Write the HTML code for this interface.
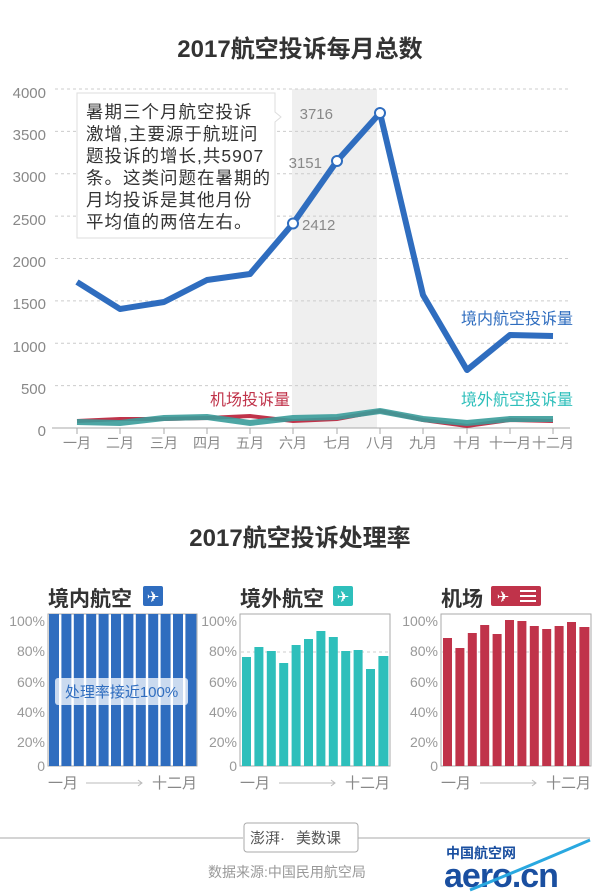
<!DOCTYPE html>
<html><head><meta charset="utf-8"><style>
body{margin:0;width:600px;height:892px;background:#fff;overflow:hidden}
svg{display:block}
text{font-family:"Liberation Sans","Noto Sans CJK SC",sans-serif}
</style></head><body>
<svg width="600" height="892" viewBox="0 0 600 892">
<text x="300" y="57" text-anchor="middle" font-size="24" font-weight="bold" fill="#333">2017航空投诉每月总数</text>
<rect x="292" y="89" width="85" height="339" fill="#efefef"/>
<g stroke="#ccc" stroke-dasharray="3,3" stroke-width="1">
<line x1="55" x2="570" y1="89" y2="89"/><line x1="55" x2="570" y1="131.4" y2="131.4"/>
<line x1="55" x2="570" y1="173.8" y2="173.8"/><line x1="55" x2="570" y1="216.1" y2="216.1"/>
<line x1="55" x2="570" y1="258.5" y2="258.5"/><line x1="55" x2="570" y1="300.9" y2="300.9"/>
<line x1="55" x2="570" y1="343.3" y2="343.3"/><line x1="55" x2="570" y1="385.6" y2="385.6"/>
</g>
<line x1="52" x2="570" y1="428" y2="428" stroke="#aaa"/>
<g font-size="15" fill="#888" text-anchor="end">
<text x="46" y="98">4000</text><text x="46" y="140">3500</text><text x="46" y="182">3000</text>
<text x="46" y="225">2500</text><text x="46" y="267">2000</text><text x="46" y="309">1500</text>
<text x="46" y="352">1000</text><text x="46" y="394">500</text><text x="46" y="436">0</text>
</g>
<g stroke="#aaa"><line x1="77" x2="77" y1="428" y2="434"/><line x1="120" x2="120" y1="428" y2="434"/><line x1="164" x2="164" y1="428" y2="434"/><line x1="207" x2="207" y1="428" y2="434"/><line x1="250" x2="250" y1="428" y2="434"/><line x1="293" x2="293" y1="428" y2="434"/><line x1="337" x2="337" y1="428" y2="434"/><line x1="380" x2="380" y1="428" y2="434"/><line x1="423" x2="423" y1="428" y2="434"/><line x1="467" x2="467" y1="428" y2="434"/><line x1="510" x2="510" y1="428" y2="434"/><line x1="553" x2="553" y1="428" y2="434"/></g>
<g font-size="14" fill="#888" text-anchor="middle">
<text x="77" y="448">一月</text><text x="120" y="448">二月</text><text x="164" y="448">三月</text><text x="207" y="448">四月</text><text x="250" y="448">五月</text><text x="293" y="448">六月</text><text x="337" y="448">七月</text><text x="380" y="448">八月</text><text x="423" y="448">九月</text><text x="467" y="448">十月</text><text x="510" y="448">十一月</text><text x="553" y="448">十二月</text>
</g>
<polyline fill="none" stroke="#c0334a" stroke-width="4" points="77,421 120,419 164,419 207,418 250,416 293,421 337,419 380,411 423,420 467,426 510,420 553,421"/>
<polyline fill="none" stroke="#3a9c9a" stroke-width="6" stroke-opacity="0.9" points="77,422 120,423 164,418 207,417 250,423 293,418 337,417 380,411 423,419 467,423 510,419 553,419"/>
<polyline fill="none" stroke="#2f6dbf" stroke-width="6" stroke-linejoin="round" points="77,282 120,309 164,302 207,280 250,274 293,223.5 337,161 380,113 423,295 467,370 510,335 553,336"/>
<g fill="#fff" stroke="#2f6dbf" stroke-width="2"><circle cx="293" cy="223.5" r="5"/><circle cx="337" cy="161" r="5"/><circle cx="380" cy="113" r="5"/></g>
<g font-size="15" fill="#888"><text x="333" y="119" text-anchor="end">3716</text><text x="322" y="168" text-anchor="end">3151</text><text x="302" y="230">2412</text></g>
<path d="M77,93 H275 V112 L281,117 L275,122 V238 H77 Z" fill="#fff" stroke="#ddd"/>
<g font-size="17.5" fill="#333" letter-spacing="1"><text x="86" y="118">暑期三个月航空投诉</text><text x="86" y="140">激增,主要源于航班问</text><text x="86" y="162">题投诉的增长,共5907</text><text x="86" y="184">条。这类问题在暑期的</text><text x="86" y="206">月均投诉是其他月份</text><text x="86" y="228">平均值的两倍左右。</text></g>
<g font-size="16"><text x="573" y="324" text-anchor="end" fill="#2f6dbf">境内航空投诉量</text><text x="290" y="405" text-anchor="end" fill="#c0334a">机场投诉量</text><text x="573" y="405" text-anchor="end" fill="#2ebfbb">境外航空投诉量</text></g>

<text x="300" y="546" text-anchor="middle" font-size="24" font-weight="bold" fill="#333">2017航空投诉处理率</text>
<g font-size="21" font-weight="bold" fill="#333"><text x="48" y="606">境内航空</text><text x="240" y="606">境外航空</text><text x="441" y="606">机场</text></g>
<rect x="143" y="586" width="20" height="20" rx="2" fill="#2f6dbf"/><text x="153" y="602" text-anchor="middle" font-size="15" fill="#fff">✈</text>
<rect x="333" y="586" width="20" height="20" rx="2" fill="#2ebfbb"/><text x="343" y="602" text-anchor="middle" font-size="15" fill="#fff">✈</text>
<rect x="491" y="586" width="50" height="20" rx="2" fill="#c0334a"/><text x="503" y="602" text-anchor="middle" font-size="15" fill="#fff">✈</text><g stroke="#fff" stroke-width="2"><line x1="520" x2="536" y1="591" y2="591"/><line x1="520" x2="536" y1="596" y2="596"/><line x1="520" x2="536" y1="601" y2="601"/></g>
<g fill="none" stroke="#aaa"><rect x="48" y="614" width="149" height="152"/><rect x="240" y="614" width="150" height="152"/><rect x="441" y="614" width="150" height="152"/></g>
<g font-size="14" fill="#999" text-anchor="end">
<text x="45" y="626">100%</text><text x="45" y="656">80%</text><text x="45" y="687">60%</text><text x="45" y="717">40%</text><text x="45" y="747">20%</text><text x="45" y="771">0</text>
<text x="237" y="626">100%</text><text x="237" y="656">80%</text><text x="237" y="687">60%</text><text x="237" y="717">40%</text><text x="237" y="747">20%</text><text x="237" y="771">0</text>
<text x="438" y="626">100%</text><text x="438" y="656">80%</text><text x="438" y="687">60%</text><text x="438" y="717">40%</text><text x="438" y="747">20%</text><text x="438" y="771">0</text>
</g>
<g fill="#2f6dbf">
<rect x="49" y="614" width="10" height="152"/><rect x="61.4" y="614" width="10" height="152"/><rect x="73.8" y="614" width="10" height="152"/><rect x="86.2" y="614" width="10" height="152"/><rect x="98.6" y="614" width="10" height="152"/><rect x="111" y="614" width="10" height="152"/><rect x="123.4" y="614" width="10" height="152"/><rect x="135.8" y="614" width="10" height="152"/><rect x="148.2" y="614" width="10" height="152"/><rect x="160.6" y="614" width="10" height="152"/><rect x="173" y="614" width="10" height="152"/><rect x="185.4" y="614" width="11" height="152"/>
</g>
<rect x="55" y="678" width="133" height="27" rx="3" fill="#fff" fill-opacity="0.75"/>
<text x="121.5" y="697" text-anchor="middle" font-size="15" fill="#2f6dbf">处理率接近100%</text>
<g stroke="#ccc" stroke-dasharray="3,3"><line x1="241" x2="389" y1="652" y2="652"/><line x1="442" x2="590" y1="652" y2="652"/></g>
<g fill="#2ebfbb">
<rect x="242" y="657" width="9" height="109"/><rect x="254.4" y="647" width="9" height="119"/><rect x="266.8" y="651" width="9" height="115"/><rect x="279.2" y="663" width="9" height="103"/><rect x="291.6" y="645" width="9" height="121"/><rect x="304" y="639" width="9" height="127"/><rect x="316.4" y="631" width="9" height="135"/><rect x="328.8" y="637" width="9" height="129"/><rect x="341.2" y="651" width="9" height="115"/><rect x="353.6" y="650" width="9" height="116"/><rect x="366" y="669" width="9" height="97"/><rect x="378.4" y="656" width="10" height="110"/>
</g>
<g fill="#c0334a">
<rect x="443" y="638" width="9" height="128"/><rect x="455.4" y="648" width="9" height="118"/><rect x="467.8" y="633" width="9" height="133"/><rect x="480.2" y="625" width="9" height="141"/><rect x="492.6" y="634" width="9" height="132"/><rect x="505" y="620" width="9" height="146"/><rect x="517.4" y="621" width="9" height="145"/><rect x="529.8" y="626" width="9" height="140"/><rect x="542.2" y="629" width="9" height="137"/><rect x="554.6" y="626" width="9" height="140"/><rect x="567" y="622" width="9" height="144"/><rect x="579.4" y="627" width="10" height="139"/>
</g>
<g font-size="15" fill="#888"><text x="48" y="788">一月</text><text x="197" y="788" text-anchor="end">十二月</text><text x="240" y="788">一月</text><text x="390" y="788" text-anchor="end">十二月</text><text x="441" y="788">一月</text><text x="591" y="788" text-anchor="end">十二月</text></g>
<g stroke="#bbb"><line x1="86" x2="142" y1="783" y2="783"/><line x1="279" x2="335" y1="783" y2="783"/><line x1="480" x2="536" y1="783" y2="783"/></g>
<g fill="none" stroke="#bbb"><polyline points="138,780 142,783 138,786"/><polyline points="331,780 335,783 331,786"/><polyline points="532,780 536,783 532,786"/></g>
<line x1="0" x2="243" y1="838" y2="838" stroke="#aaa"/><line x1="358" x2="590" y1="838" y2="838" stroke="#aaa"/>
<rect x="244" y="823" width="114" height="29" rx="3" fill="#fff" stroke="#aaa"/>
<text x="250" y="843" font-size="15" fill="#555" font-family="'Noto Serif CJK SC',serif">澎湃·</text><text x="296" y="843" font-size="15" fill="#555">美数课</text>
<text x="208" y="877" font-size="14" fill="#999">数据来源:中国民用航空局</text>
<text x="446" y="858" font-size="14" font-weight="bold" fill="#1a4fa0">中国航空网</text>
<text x="444" y="887" font-size="34" font-weight="bold" fill="#1a4fa0" letter-spacing="-1">aero.cn</text>
<path d="M470,890 Q520,870 590,840" fill="none" stroke="#29a8e0" stroke-width="3"/>
</svg>
</body></html>
